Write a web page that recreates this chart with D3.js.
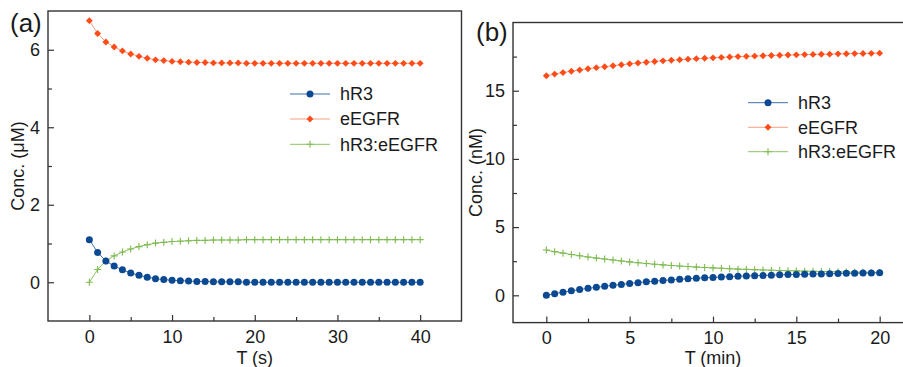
<!DOCTYPE html>
<html><head><meta charset="utf-8">
<script src="https://cdn.jsdelivr.net/npm/d3@7"></script>
<style>
html,body{margin:0;padding:0;background:#fff;}
svg{display:block;font-family:"Liberation Sans",Arial,sans-serif;}
</style></head>
<body><svg id="chart" width="903" height="367"></svg>
<script>
// ---------- DATA ----------
const seriesNames = ["hR3", "eEGFR", "hR3:eEGFR"];

// Panel (a): time in seconds, step 1 s
const timeA = d3.range(0, 41, 1);
const hR3A = [1.10,0.77,0.55,0.42,0.32,0.24,0.18,0.13,0.09,0.07,0.05,0.04,0.03,0.02,0.02,0.01,0.01,0.01,0.01,0.00,
              0.00,0.00,0.00,0.00,0.00,0.00,0.00,0.00,0.00,0.00,0.00,0.00,0.00,0.00,0.00,0.00,0.00,0.00,0.00,0.00,0.00];
const eEGFRA = [6.75,6.42,6.20,6.07,5.97,5.89,5.83,5.78,5.74,5.72,5.70,5.69,5.68,5.67,5.67,5.66,5.66,5.66,5.66,5.65,
                5.65,5.65,5.65,5.65,5.65,5.65,5.65,5.65,5.65,5.65,5.65,5.65,5.65,5.65,5.65,5.65,5.65,5.65,5.65,5.65,5.65];
const complexA = [0.00,0.33,0.55,0.68,0.78,0.86,0.92,0.97,1.01,1.03,1.05,1.06,1.07,1.08,1.08,1.09,1.09,1.09,1.09,1.10,
                  1.10,1.10,1.10,1.10,1.10,1.10,1.10,1.10,1.10,1.10,1.10,1.10,1.10,1.10,1.10,1.10,1.10,1.10,1.10,1.10,1.10];

// Panel (b): time in minutes, step 0.5 min
const timeB = d3.range(0, 20.001, 0.5);
const hR3B = [0.00,0.12,0.23,0.33,0.42,0.51,0.59,0.66,0.73,0.80,0.87,0.93,0.99,1.04,1.09,1.13,1.17,1.21,1.25,1.28,
              1.31,1.34,1.37,1.40,1.42,1.44,1.46,1.48,1.50,1.52,1.53,1.55,1.56,1.57,1.58,1.60,1.61,1.62,1.63,1.64,1.65];
const eEGFRB = [16.10,16.22,16.33,16.43,16.52,16.61,16.69,16.76,16.83,16.90,16.97,17.03,17.09,17.14,17.19,17.23,17.27,17.31,17.35,17.38,
                17.41,17.44,17.47,17.50,17.52,17.54,17.56,17.58,17.60,17.62,17.63,17.65,17.66,17.67,17.68,17.70,17.71,17.72,17.73,17.74,17.75];
const complexB = [3.32,3.20,3.09,2.99,2.90,2.81,2.73,2.66,2.59,2.52,2.45,2.39,2.33,2.28,2.23,2.19,2.15,2.11,2.07,2.04,
                  2.01,1.98,1.95,1.92,1.90,1.88,1.86,1.84,1.82,1.80,1.79,1.77,1.76,1.75,1.74,1.72,1.71,1.70,1.69,1.68,1.67];

const xTicksA = [0,10,20,30,40], xMinorA = [5,15,25,35];
const yTicksA = [0,2,4,6], yMinorA = [1,3,5];
const xTicksB = [0,5,10,15,20], xMinorB = [2.5,7.5,12.5,17.5];
const yTicksB = [0,5,10,15], yMinorB = [2.5,7.5,12.5,17.5];

// ---------- STYLE ----------
const markerColor = {"hR3":"#0b4a92","eEGFR":"#ff4b17","hR3:eEGFR":"#7dba4f"};
const lineColor = {"hR3":"#3f6fae","eEGFR":"#f6a184","hR3:eEGFR":"#8cc365"};
const axisColor = "#333";
const textColor = "#1a1a1a";

const svg = d3.select("#chart");

const panels = [
  {label:"(a)", labelX:10, labelY:32, left:48, right:461.5, top:11, bottom:321,
   xd:[-5,45], yd:[-1,7], xt:xTicksA, xm:xMinorA, yt:yTicksA, ym:yMinorA,
   t:timeA, s:[hR3A,eEGFRA,complexA], xTitle:"T (s)", xTitleAt:20, yTitle:"Conc. (μM)", yTitleX:24,
   legX:290, legY:[94,119,144.3]},
  {label:"(b)", labelX:476, labelY:41, left:513, right:913, top:22.5, bottom:322.6,
   xd:[-2,22], yd:[-2,20], xt:xTicksB, xm:xMinorB, yt:yTicksB, ym:yMinorB,
   t:timeB, s:[hR3B,eEGFRB,complexB], xTitle:"T (min)", xTitleAt:10, yTitle:"Conc. (nM)", yTitleX:482,
   legX:748, legY:[102.7,127.3,151.7]}
];

function drawMarker(g, name, x, y){
  if(name==="hR3"){
    g.append("circle").attr("cx",x).attr("cy",y).attr("r",3.5).attr("fill",markerColor[name]);
  } else if(name==="eEGFR"){
    g.append("path").attr("d", d3.symbol(d3.symbolDiamond2, 30)()).attr("transform",`translate(${x},${y})`)
      .attr("fill",markerColor[name]);
  } else {
    g.append("path").attr("d", `M${x-3.5},${y}H${x+3.5}M${x},${y-3.5}V${y+3.5}`)
      .attr("stroke",markerColor[name]).attr("stroke-width",1.1).attr("fill","none");
  }
}

panels.forEach(p=>{
  const x = d3.scaleLinear().domain(p.xd).range([p.left,p.right]);
  const y = d3.scaleLinear().domain(p.yd).range([p.bottom,p.top]);
  const g = svg.append("g");

  // frame
  g.append("rect").attr("x",p.left).attr("y",p.top).attr("width",p.right-p.left).attr("height",p.bottom-p.top)
    .attr("fill","none").attr("stroke",axisColor).attr("stroke-width",1.4);

  // x axis (ticks inward)
  const xAx = g.append("g").attr("transform",`translate(0,${p.bottom})`)
    .call(d3.axisBottom(x).tickValues(p.xt).tickSizeInner(-6).tickSizeOuter(0).tickPadding(9).tickFormat(d3.format("d")));
  xAx.select(".domain").remove();
  xAx.selectAll("line").attr("stroke",axisColor).attr("stroke-width",1.2);
  xAx.selectAll("text").attr("font-size",18).attr("fill",textColor).attr("font-family","Liberation Sans, Arial, sans-serif");
  const xMin = g.append("g").attr("transform",`translate(0,${p.bottom})`)
    .call(d3.axisBottom(x).tickValues(p.xm).tickSizeInner(-4).tickSizeOuter(0).tickFormat(""));
  xMin.select(".domain").remove();
  xMin.selectAll("line").attr("stroke",axisColor).attr("stroke-width",1.2);

  // y axis
  const yAx = g.append("g").attr("transform",`translate(${p.left},0)`)
    .call(d3.axisLeft(y).tickValues(p.yt).tickSizeInner(-6).tickSizeOuter(0).tickPadding(8).tickFormat(d3.format("d")));
  yAx.select(".domain").remove();
  yAx.selectAll("line").attr("stroke",axisColor).attr("stroke-width",1.2);
  yAx.selectAll("text").attr("font-size",18).attr("fill",textColor).attr("font-family","Liberation Sans, Arial, sans-serif");
  const yMin = g.append("g").attr("transform",`translate(${p.left},0)`)
    .call(d3.axisLeft(y).tickValues(p.ym).tickSizeInner(-4).tickSizeOuter(0).tickFormat(""));
  yMin.select(".domain").remove();
  yMin.selectAll("line").attr("stroke",axisColor).attr("stroke-width",1.2);

  // titles
  g.append("text").attr("x",x(p.xTitleAt)).attr("y",364).attr("text-anchor","middle")
    .attr("font-size",18).attr("fill",textColor).text(p.xTitle);
  g.append("text").attr("transform",`translate(${p.yTitleX},${(p.top+p.bottom)/2}) rotate(-90)`)
    .attr("text-anchor","middle").attr("font-size",18).attr("fill",textColor).text(p.yTitle);
  g.append("text").attr("x",p.labelX).attr("y",p.labelY).attr("font-size",26).attr("fill",textColor).text(p.label);

  // series: draw lines then markers
  const order = [2,1,0];
  order.forEach(i=>{
    const name = seriesNames[i];
    const vals = p.s[i];
    const pts = p.t.map((t,k)=>[t, vals[k]]);
    g.append("path").datum(pts)
      .attr("d", d3.line().x(d=>x(d[0])).y(d=>y(d[1])))
      .attr("fill","none").attr("stroke",lineColor[name]).attr("stroke-width",1);
  });
  order.forEach(i=>{
    const name = seriesNames[i];
    const vals = p.s[i];
    const mg = g.append("g");
    p.t.forEach((t,k)=> drawMarker(mg, name, x(t), y(vals[k])));
  });

  // legend
  seriesNames.forEach((name,i)=>{
    const ly = p.legY[i];
    g.append("line").attr("x1",p.legX).attr("x2",p.legX+40).attr("y1",ly).attr("y2",ly)
      .attr("stroke",lineColor[name]).attr("stroke-width",1);
    drawMarker(g, name, p.legX+20, ly);
    g.append("text").attr("x",p.legX+50).attr("y",ly).attr("dy","0.35em")
      .attr("font-size",18).attr("fill",textColor).text(name);
  });
});
</script>
</body></html>
